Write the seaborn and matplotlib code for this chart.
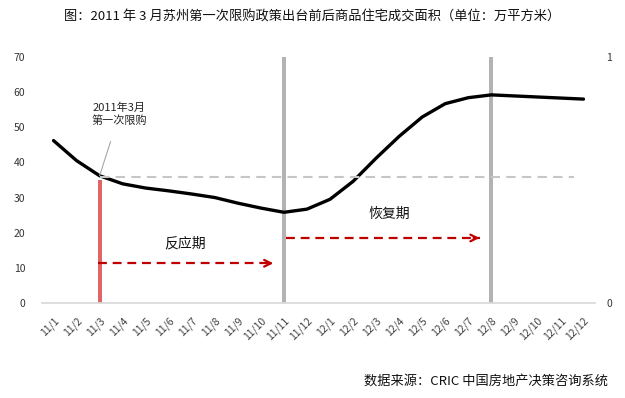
import numpy as np
import pandas as pd
import matplotlib
matplotlib.use('Agg')
import matplotlib.pyplot as plt
import seaborn as sns

# months 2011/1 .. 2012/12 (shown as yy/m)
months = ['11/1', '11/2', '11/3', '11/4', '11/5', '11/6', '11/7', '11/8',
          '11/9', '11/10', '11/11', '11/12', '12/1', '12/2', '12/3', '12/4',
          '12/5', '12/6', '12/7', '12/8', '12/9', '12/10', '12/11', '12/12']
# 商品住宅成交面积 (万平方米)
area = [46.2, 40.5, 36.2, 33.9, 32.7, 31.9, 31.0, 30.0, 28.4, 27.0, 25.8, 26.7,
        29.5, 34.6, 41.2, 47.4, 52.9, 56.7, 58.4, 59.2, 58.9, 58.6, 58.3, 58.0]
# marker bars on the secondary axis (0..1)
marker_vals = [0, 0, 0.5, 0, 0, 0, 0, 0, 0, 0, 1, 0,
               0, 0, 0, 0, 0, 0, 0, 1, 0, 0, 0, 0]
policy_month = '11/3'
phase1 = ('11/3', '11/11')   # 反应期
phase2 = ('11/11', '12/8')   # 恢复期
ref_level = 35.8

sns.set_theme(style='white')
plt.rcParams['font.family'] = ['Noto Sans CJK SC', 'DejaVu Sans']
plt.rcParams['axes.unicode_minus'] = False

df = pd.DataFrame({'month': months, 'area': area, 'marker': marker_vals})
df['pos'] = np.arange(len(months))

fig = plt.figure(figsize=(6.25, 3.98), dpi=100)
ax = fig.add_axes([0.0672, 0.2387, 0.8848, 0.6183])
ax2 = ax.twinx()

# bars on right axis
bar_colors = ['#de6666' if m == policy_month else '#b3b3b3' for m in months]
sns.barplot(data=df, x='month', y='marker', hue='month', palette=bar_colors,
            order=months, width=0.18, linewidth=0, saturation=1,
            legend=False, ax=ax2)
ax2.set_ylim(0, 1)
ax2.set_yticks([0, 1])
ax2.set_yticklabels(['0', '1'])
ax2.set_ylabel('')

# line on left axis
sns.lineplot(data=df, x='pos', y='area', color='black', linewidth=2.4, ax=ax)
ax.set_zorder(ax2.get_zorder() + 1)
ax.patch.set_visible(False)
ax.set_ylim(0, 70)
ax.set_yticks(range(0, 71, 10))
ax.set_xlim(-0.5, len(months) - 0.5)
ax.set_xlabel('')
ax.set_ylabel('')

i_pol = months.index(policy_month)
ax.plot([i_pol, len(months) - 1.4], [ref_level, ref_level], color='#c6c6c6',
        linewidth=1.5, dashes=(4.5, 3))

# phase arrows
def phase_arrow(a, b, y, shrink_a, shrink_b):
    x0 = months.index(a) + shrink_a
    x1 = months.index(b) - shrink_b
    ax.plot([x0, x1 - 0.1], [y, y], color='#c00000', linewidth=1.6, dashes=(4, 2.6))
    ax.annotate('', xy=(x1, y), xytext=(x1 - 0.5, y),
                arrowprops=dict(arrowstyle='->', color='#c00000', lw=1.6,
                                mutation_scale=12))

phase_arrow(*phase1, 11.3, -0.06, 0.34)
phase_arrow(*phase2, 18.5, 0.09, 0.39)
ax.text(5.7, 17.0, '反应期', ha='center', va='center', fontsize=10, color='#111111')
ax.text(14.57, 25.4, '恢复期', ha='center', va='center', fontsize=10, color='#111111')

ax.annotate('2011年3月\n第一次限购', xy=(i_pol, area[i_pol]), xytext=(2.85, 53.6),
            ha='center', va='center', fontsize=8, linespacing=1.25,
            arrowprops=dict(arrowstyle='-', color='#a6a6a6', lw=0.8,
                            shrinkA=9, shrinkB=0))

# axis styling
for a in (ax, ax2):
    for s in ('top', 'left', 'right', 'bottom'):
        a.spines[s].set_visible(False)
ax.spines['bottom'].set_visible(True)
ax.spines['bottom'].set_color('#d9d9d9')
ax.tick_params(axis='y', length=0, pad=12, labelsize=7.5, labelcolor='#333333')
ax2.tick_params(axis='y', length=0, pad=8, labelsize=7.5, labelcolor='#333333')
ax2.tick_params(axis='x', length=0, labelbottom=False)

ax.set_xticks(df['pos'])
ax.set_xticklabels(months, rotation=45, ha='right', va='top',
                   rotation_mode='anchor', fontsize=7.5, color='#404040')
ax.tick_params(axis='x', which='major', length=0, pad=9)
ax.set_xticks(np.arange(-0.5, len(months)), minor=True)
ax.tick_params(axis='x', which='minor', length=5, width=0.8, color='#d9d9d9')

fig.text(0.5, 0.957, '图：2011 年 3 月苏州第一次限购政策出台前后商品住宅成交面积（单位：万平方米）',
         ha='center', va='center', fontsize=9.5, color='#111111')
fig.text(0.973, 0.043, '数据来源：CRIC 中国房地产决策咨询系统',
         ha='right', va='center', fontsize=9.5, color='#111111')

fig.savefig('out.png', dpi=100)
